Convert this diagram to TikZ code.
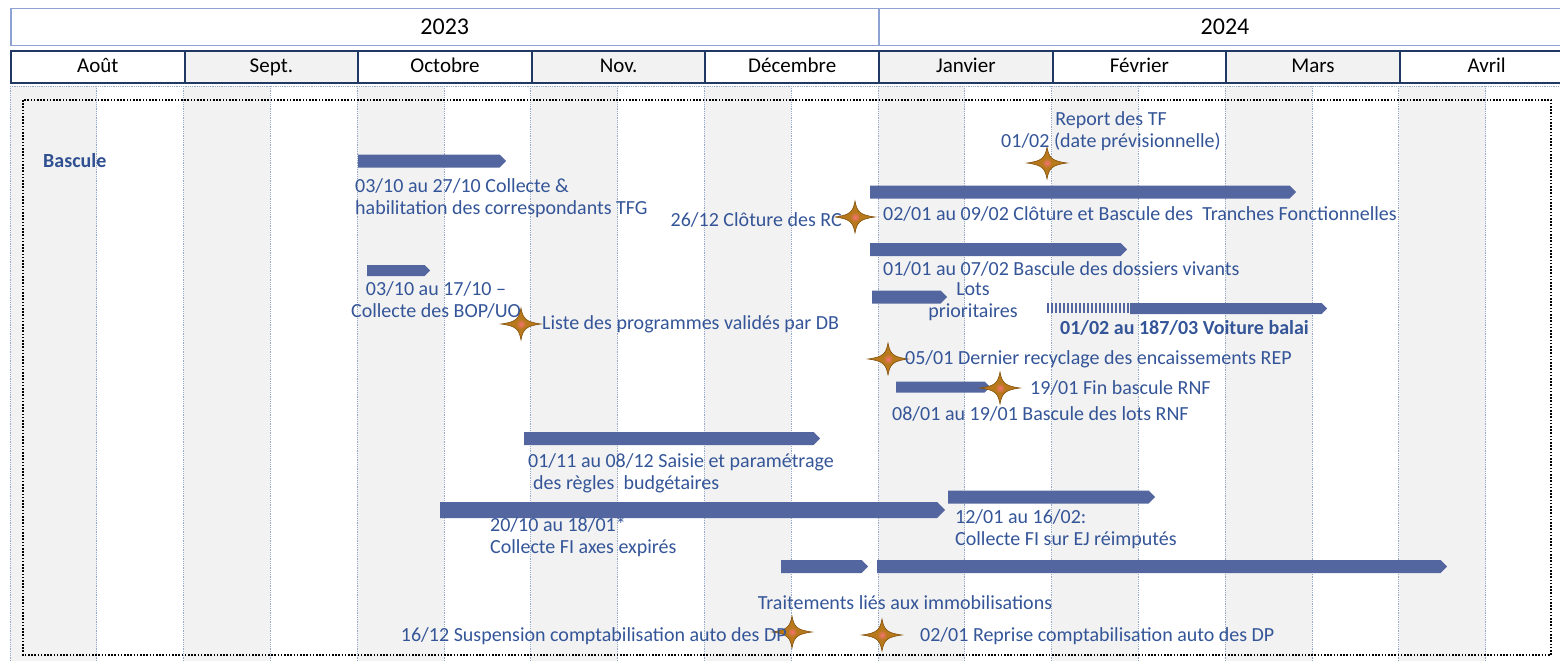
\documentclass[tikz,border=0pt]{standalone}
\usepackage{fontspec}
\setmainfont{Carlito}
\usetikzlibrary{positioning,shapes.symbols}
\definecolor{barblue}{RGB}{84,102,160}
\definecolor{textblue}{RGB}{52,85,152}
\definecolor{darkblue}{RGB}{47,80,145}
\definecolor{gridline}{RGB}{150,170,200}
\definecolor{stripe}{RGB}{242,242,242}
\definecolor{navy}{RGB}{31,56,100}
\definecolor{yearline}{RGB}{143,162,212}
\definecolor{stargold}{RGB}{184,120,28}
\definecolor{starbrown}{RGB}{130,80,10}
\definecolor{starpink}{RGB}{245,115,115}

\begin{document}
\begin{tikzpicture}[x=1pt, y=-1pt,
  bar/.style={signal, signal to=east, signal pointer angle=90, fill=barblue, minimum height=13pt, inner sep=0pt, anchor=west},
  lbl/.style={inner sep=0pt, text=textblue, font=\fontsize{20}{22}\selectfont, align=left},
  boldlbl/.style={lbl, font=\fontsize{20}{22}\selectfont\bfseries},
  yearbox/.style={draw=yearline, line width=1.5pt, minimum height=37pt, anchor=north west, font=\fontsize{24}{28}\selectfont, inner sep=0pt},
  monthbox/.style={draw=navy, line width=2pt, minimum height=32pt, minimum width=173.6pt, anchor=north west, font=\fontsize{21}{24}\selectfont, inner sep=0pt, text height=14pt, text depth=4pt},
  sparkle/.pic={
    \filldraw[fill=stargold, draw=starbrown, line width=0.6pt] (-20,0) .. controls (-5,-2) and (-2,-5) .. (0,-16) .. controls (2,-5) and (5,-2) .. (20,0) .. controls (5,2) and (2,5) .. (0,16) .. controls (-2,5) and (-5,2) .. (-20,0) -- cycle;
    \shade[inner color=starpink, outer color=stargold] (0,0) circle (5);
  }
]
\useasboundingbox (0,0) rectangle (1560,661);

% Background stripes and grid
\foreach \i in {0,...,8}
  \fill[stripe] ({10+173.6*\i},86) rectangle ({96.8+173.6*\i},661);
\foreach \i in {0,...,17}
  \draw[gridline, densely dotted, line width=0.8pt] ({10+86.8*\i},86) -- ({10+86.8*\i},661);
\draw[gridline, densely dotted, line width=0.8pt] (10,86) -- (1560,86);

% Years
\node[yearbox, minimum width=868pt] (y2023) at (10,8) {2023};
\node[yearbox, minimum width=700pt] (y2024) at (878,8) {};
\node[font=\fontsize{24}{28}\selectfont] (t2024) at (1225,26.5) {2024};

% Months
\foreach \m/\c [count=\i from 0] in {Août/white, Sept./stripe, Octobre/white, Nov./stripe, Décembre/white, Janvier/stripe, Février/white, Mars/stripe, Avril/white}
  \node[monthbox, fill=\c] (m\i) at ({10+173.6*\i},50) {\m};

% Frame
\draw[black, line width=1.6pt, dash pattern=on 1.6pt off 1.6pt] (23,100) rectangle (1551,655);

\node[boldlbl, text=darkblue, anchor=west] (bascule) at (43,161) {Bascule};

% Bars
\node[bar, minimum width=148pt] (b1) at (358,161) {};
\node[bar, minimum width=426pt] (b2) at (870,192) {};
\node[bar, minimum width=257pt] (b3) at (870,249.5) {};
\node[bar, minimum width=63pt, minimum height=11pt] (b4) at (367,270.5) {};
\node[bar, minimum width=75pt] (b5) at (872,297) {};
\foreach \k in {0,...,20}
  \fill[barblue] ({1047+4*\k},303) rectangle ++(2,10);
\node[bar, minimum width=197pt, minimum height=11pt] (b6) at (1130,308.5) {};
\node[bar, minimum width=94pt, minimum height=11pt] (b7) at (896,387) {};
\node[bar, minimum width=296pt] (b8) at (524,438.5) {};
\node[bar, minimum width=505pt, minimum height=16pt] (b9) at (440,510) {};
\node[bar, minimum width=207pt] (b10) at (948,497) {};
\node[bar, minimum width=87pt] (b11) at (781,566.5) {};
\node[bar, minimum width=570pt] (b12) at (877,566.5) {};

% Bar labels
\node[lbl, anchor=west] (l1) at (355,198) {03/10 au 27/10 Collecte \&\\habilitation des correspondants TFG};
\node[lbl, anchor=west] (l2) at (883,214) {02/01 au 09/02 Clôture et Bascule des\ \ Tranches Fonctionnelles};
\node[lbl, anchor=west] (l3) at (883,269) {01/01 au 07/02 Bascule des dossiers vivants};
\node[lbl, align=center] (l4) at (436,300) {03/10 au 17/10 --\\Collecte des BOP/UO};
\node[lbl, align=center] (l5) at (973,302) {Lots\\prioritaires};
\node[boldlbl, anchor=west] (l6) at (1060,328) {01/02 au 187/03 Voiture balai};
\node[lbl, anchor=west] (l7) at (892,414) {08/01 au 19/01 Bascule des lots RNF};
\node[lbl, anchor=west] (l8) at (528,473) {01/11 au 08/12 Saisie et paramétrage\\\hspace{5pt}des règles\ \ budgétaires};
\node[lbl, anchor=west] (l9) at (490,537) {20/10 au 18/01*\\Collecte FI axes expirés};
\node[lbl, anchor=west] (l10) at (955,529) {12/01 au 16/02:\\Collecte FI sur EJ réimputés};
\node[lbl] (l11) at (905,603) {Traitements liés aux immobilisations};

% Milestones
\coordinate (sTF) at (1047,163);
\coordinate (sRC) at (855,217);
\coordinate (sProg) at (521,324);
\coordinate (sREP) at (888,359);
\coordinate (sRNF) at (1000,388);
\coordinate (sDP1) at (792,632);
\coordinate (sDP2) at (882,635);
\foreach \s in {sTF,sRC,sProg,sREP,sRNF,sDP1,sDP2}
  \pic at (\s) {sparkle};

\node[lbl, align=center] (lTF) at (1111,131) {Report des TF\\01/02 (date prévisionnelle)};
\node[lbl, left=13pt of sRC, yshift=-3pt] (lRC) {26/12 Clôture des RC};
\node[lbl, right=21pt of sProg] (lProg) {Liste des programmes validés par DB};
\node[lbl, right=17pt of sREP] (lREP) {05/01 Dernier recyclage des encaissements REP};
\node[lbl, right=30pt of sRNF] (lRNF) {19/01 Fin bascule RNF};
\node[lbl, left=5pt of sDP1, yshift=-4pt] (lDP1) {16/12 Suspension comptabilisation auto des DP};
\node[lbl, right=38pt of sDP2, yshift=-1pt] (lDP2) {02/01 Reprise comptabilisation auto des DP};

\end{tikzpicture}
\end{document}
